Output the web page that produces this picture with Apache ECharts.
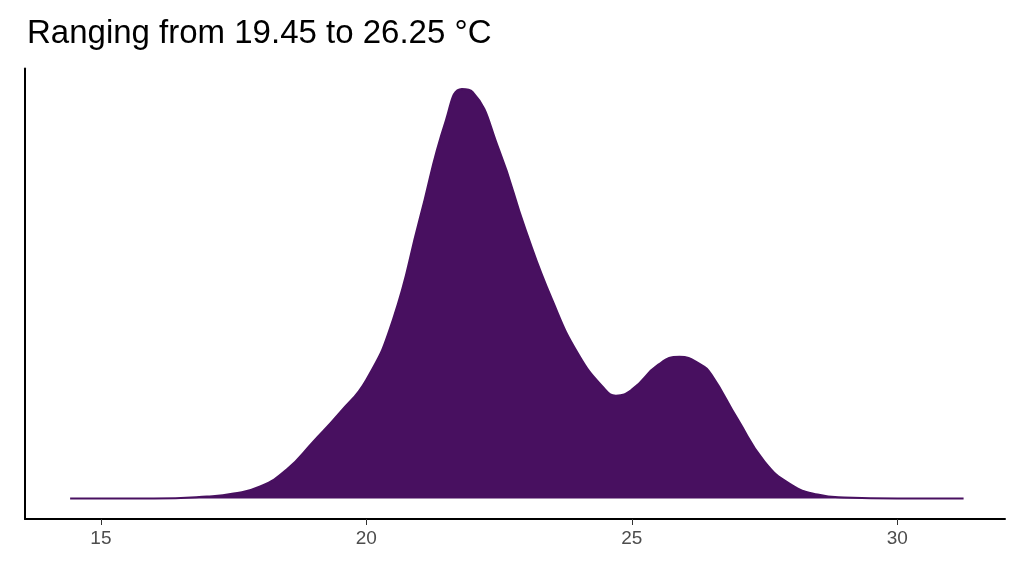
<!DOCTYPE html>
<html>
<head>
    <meta charset="UTF-8">
    <title>Density</title>
    <script src="https://cdn.jsdelivr.net/npm/echarts@6/dist/echarts.min.js"></script>
</head>
<body style="margin: 0;overflow: hidden;background: #fff;">
<div id="chart" style="width: 1024px;height:576px"></div>
<script type="text/javascript">
    // temperature (°C) and density height (relative units)
    var temps = [14.42, 16, 17, 17.5, 18, 18.5, 19, 19.5, 20, 20.5, 21, 21.5, 21.8, 22, 22.5, 23, 23.5, 24, 24.5, 24.7, 25, 25.5, 25.9, 26.3, 26.5, 27, 27.5, 28, 28.5, 29, 30, 31.25];
    var density = [0, 0, 2, 5, 12, 29, 57, 86, 119, 179, 279, 379, 410, 407, 349, 269, 199, 144, 109, 103, 109, 134, 142, 134, 124, 79, 37, 14, 4, 1, 0, 0];
    var tickValues = [15, 20, 25, 30];

    var points = temps.map(function (t, i) { return [t, density[i]]; });
    var chart = echarts.init(document.getElementById('chart'));
    chart.setOption({
        animation: false,
        title: {
            text: 'Ranging from 19.45 to 26.25 °C',
            left: 22, top: 12,
            textStyle: {fontFamily: 'Liberation Sans', fontSize: 33, fontWeight: 'normal', color: '#000'}
        },
        grid: {left: 25, right: 19, top: 68.5, bottom: 57},
        xAxis: {
            type: 'value', min: 13.57, max: 32.03,
            splitLine: {show: false},
            axisLine: {onZero: false, lineStyle: {color: '#000', width: 2}},
            axisTick: {customValues: tickValues, length: 6, lineStyle: {color: '#333'}},
            axisLabel: {customValues: tickValues, color: '#4d4d4d', fontSize: 19, fontFamily: 'Liberation Sans', margin: 10}
        },
        yAxis: {
            type: 'value', min: -20.5, max: 430.5,
            splitLine: {show: false},
            axisLine: {show: true, onZero: false, lineStyle: {color: '#000', width: 2}},
            axisTick: {show: false},
            axisLabel: {show: false}
        },
        series: [{
            type: 'line',
            data: points,
            smooth: 0.5,
            symbol: 'none',
            lineStyle: {color: '#481060', width: 2},
            areaStyle: {color: '#481060', opacity: 1, origin: 0}
        }]
    });
</script>
</body>
</html>
